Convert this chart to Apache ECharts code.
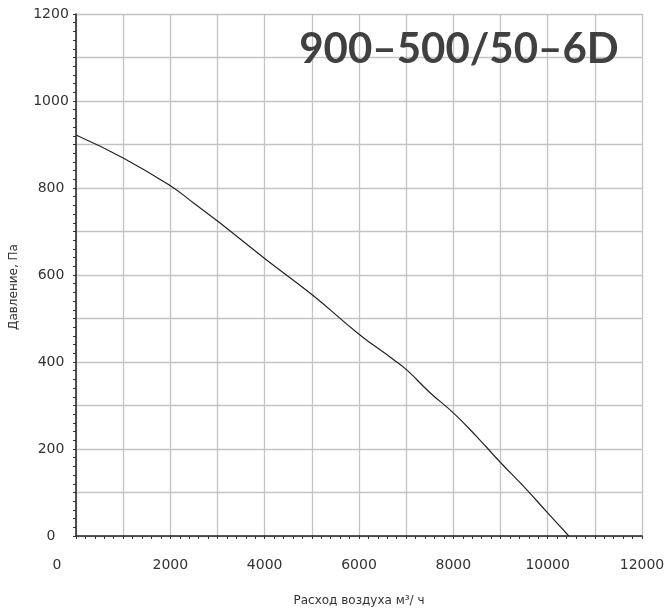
<!DOCTYPE html>
<html>
<head>
<meta charset="utf-8">
<script src="https://cdn.jsdelivr.net/npm/echarts@6/dist/echarts.min.js"></script>
<style>html,body{margin:0;padding:0;background:#fff}#c{width:669px;height:612px}</style>
</head>
<body>
<div id="c"></div>
<script>
const chartTitle = '900–500/50–6D';
const xName = 'Расход воздуха м³/ ч';
const yName = 'Давление, Па';
const airflow = [0, 1000, 2000, 2500, 3000, 4000, 5000, 6000, 6700, 7000, 7500, 8000, 8500, 9000, 9500, 10000, 10450];
const pressure = [922, 869, 805, 765, 724, 638, 555, 464, 408, 383, 330, 283, 228, 169, 113, 53, 0];
const xTicks = [0, 2000, 4000, 6000, 8000, 10000, 12000];
const yTicks = [0, 200, 400, 600, 800, 1000, 1200];

const font = 'DejaVu Sans';
const chart = echarts.init(document.getElementById('c'), null, {renderer: 'canvas'});
chart.setOption({
  animation: false,
  backgroundColor: '#ffffff',
  title: {
    text: chartTitle,
    left: 454,
    top: 23,
    textAlign: 'center',
    textStyle: {fontFamily: 'Lato', fontSize: 42, fontWeight: 'bold', color: '#404040'}
  },
  grid: {left: 73, right: 27, top: 14, bottom: 69, containLabel: false},
  xAxis: {
    type: 'value', min: 0, max: 12000, interval: 1000,
    name: xName, nameLocation: 'middle', nameGap: 59,
    nameTextStyle: {fontFamily: font, fontSize: 12, color: '#333'},
    axisLine: {show: true, onZero: false, lineStyle: {color: '#222', width: 1.5}},
    axisTick: {show: true, length: 3, lineStyle: {color: '#333'}},
    minorTick: {show: true, splitNumber: 5, length: 3, lineStyle: {color: '#333'}},
    splitLine: {show: true, lineStyle: {color: '#c4c4c4', width: 1.3}},
    axisLabel: {
      margin: 22, fontFamily: font, fontSize: 14, color: '#333',
      formatter: v => xTicks.includes(v) ? (v === 0 ? '{z|0}' : String(v)) : '',
      rich: {z: {fontFamily: font, fontSize: 14, color: '#333', padding: [0, 38, 0, 0]}}
    }
  },
  yAxis: {
    type: 'value', min: 0, max: 1200, interval: 100,
    name: yName, nameLocation: 'middle', nameGap: 56,
    nameTextStyle: {fontFamily: font, fontSize: 12, color: '#333', padding: [0, 24, 0, 0]},
    axisLine: {show: true, onZero: false, lineStyle: {color: '#222', width: 1.5}},
    axisTick: {show: true, length: 3, lineStyle: {color: '#333'}},
    minorTick: {show: true, splitNumber: 5, length: 3, lineStyle: {color: '#333'}},
    splitLine: {show: true, lineStyle: {color: '#c4c4c4', width: 1.3}},
    axisLabel: {
      margin: 25, align: 'center', fontFamily: font, fontSize: 14, color: '#333',
      formatter: v => yTicks.includes(v) ? String(v) : ''
    }
  },
  series: [{
    type: 'line',
    data: airflow.map((x, i) => [x, pressure[i]]),
    showSymbol: false,
    smooth: 0.5,
    lineStyle: {color: '#222', width: 1.2},
    z: 5
  }]
});
</script>
</body>
</html>
